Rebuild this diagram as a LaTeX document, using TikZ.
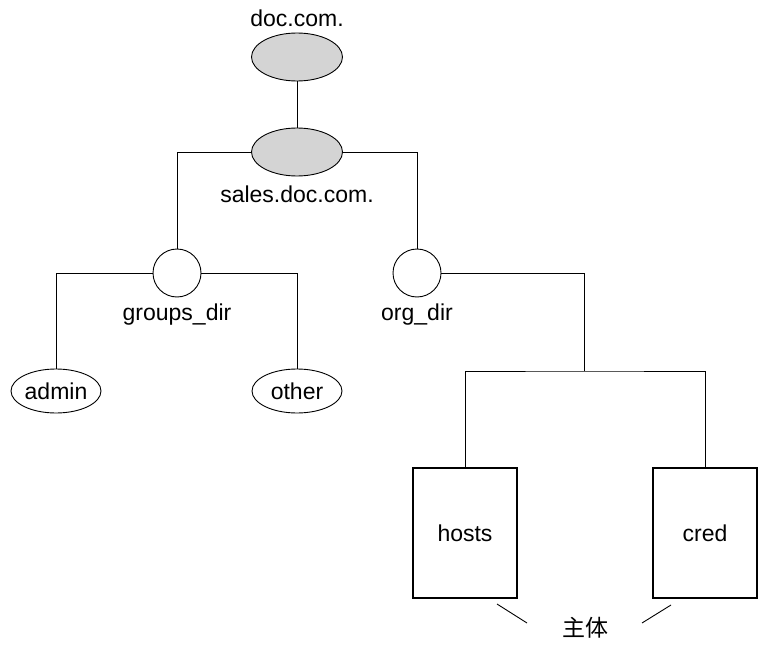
\documentclass[tikz,border=0pt]{standalone}
\usepackage{fontspec}
\setmainfont{Liberation Sans}
\newfontfamily\cjk{Noto Sans CJK SC}
\usetikzlibrary{shapes.geometric,positioning}

\begin{document}
\begin{tikzpicture}[
      x=1pt, y=-1pt,
      every node/.style={font=\fontsize{23}{27}\selectfont},
      domainnode/.style={ellipse, draw, line width=0.9pt, fill=black!17, minimum width=91pt, minimum height=48pt, inner sep=0pt},
      dirnode/.style={circle, draw, line width=0.9pt, minimum size=48pt, inner sep=0pt},
      leafnode/.style={ellipse, draw, line width=0.9pt, minimum width=90pt, minimum height=44pt, inner sep=0pt},
      tablebox/.style={rectangle, draw, line width=2pt, minimum width=104pt, minimum height=130pt, inner sep=0pt},
      lbl/.style={anchor=base, inner sep=0pt},
      link/.style={line width=0.9pt}
    ]
    \useasboundingbox (0,0) rectangle (760,650);

    % Domains
    \node[domainnode] (doc)   at (297,57)  {};
    \node[domainnode] (sales) at (297,152) {};
    \node[lbl] (doclbl)   at (297,27)  {doc.com.};
    \node[lbl] (saleslbl) at (297,202) {sales.doc.com.};

    % Directories
    \node[dirnode] (groups) at (177,273) {};
    \node[dirnode] (org)    at (417,273) {};
    \node[lbl] (groupslbl) at (177,320) {groups\_dir};
    \node[lbl] (orglbl)    at (417,320) {org\_dir};

    % Groups
    \node[leafnode] (admin) at (56,391)  {admin};
    \node[leafnode] (other) at (297,391) {other};

    % Tables
    \node[tablebox] (hosts) at (465,533) {hosts};
    \node[tablebox] (cred)  at (705,533) {cred};
    \coordinate (split) at (584,371);

    % Principal label
    \node[lbl] (principal) at (585,636) {\cjk 主体};
    \coordinate (hostsa) at (497,604);
    \coordinate (hostsb) at (527,623);
    \coordinate (creda)  at (671,605);
    \coordinate (credb)  at (642,623);

    % Tree lines
    \draw[link] (doc) -- (sales);
    \draw[link] (sales.west) -| (groups.north);
    \draw[link] (sales.east) -| (org.north);
    \draw[link] (groups.west) -| (admin.north);
    \draw[link] (groups.east) -| (other.north);
    \draw[link] (org.east) -| (split);
    \draw[link] (hosts.north) |- (split) -| (cred.north);

    % Callout strokes
    \draw[link] (hostsa) -- (hostsb);
    \draw[link] (creda) -- (credb);
  \end{tikzpicture}
\end{document}
